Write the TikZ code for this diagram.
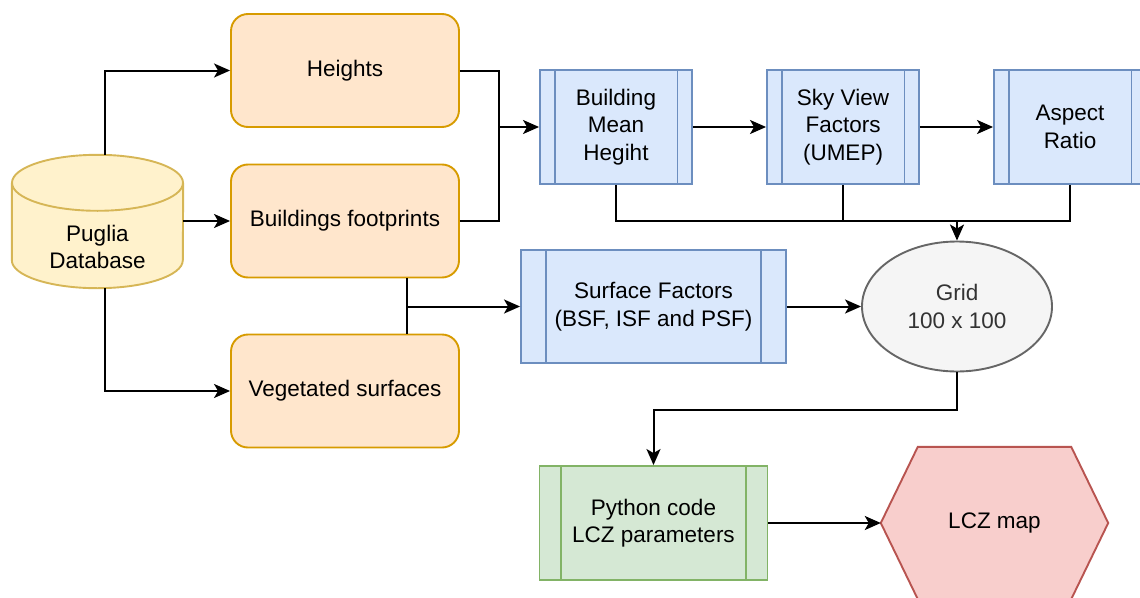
\documentclass[tikz,border=0pt]{standalone}
\usepackage{fontspec}
\setmainfont{Liberation Sans}
\usetikzlibrary{arrows.meta,shapes.geometric,backgrounds}

\definecolor{orangefill}{HTML}{FFE6CC}
\definecolor{orangeline}{HTML}{D79B00}
\definecolor{yellowfill}{HTML}{FFF2CC}
\definecolor{yellowline}{HTML}{D6B656}
\definecolor{bluefill}{HTML}{DAE8FC}
\definecolor{blueline}{HTML}{6C8EBF}
\definecolor{greyfill}{HTML}{F5F5F5}
\definecolor{greyline}{HTML}{666666}
\definecolor{greytext}{HTML}{333333}
\definecolor{greenfill}{HTML}{D5E8D4}
\definecolor{greenline}{HTML}{82B366}
\definecolor{redfill}{HTML}{F8CECC}
\definecolor{redline}{HTML}{B85450}

\tikzset{
  lbl/.style={font=\fontsize{22.5}{27.5}\selectfont, align=center, text=black, inner sep=0pt},
  source/.style={lbl, draw=orangeline, fill=orangefill, line width=1.9pt,
    rounded corners=17pt, minimum width=228pt, minimum height=113pt},
  procbox/.style={lbl, draw=blueline, fill=bluefill, line width=1.9pt,
    minimum width=152pt, minimum height=114pt},
  wire/.style={line width=2pt, draw=black},
  arr/.style={wire, -{Stealth[length=16pt, width=14pt, inset=4pt]}},
}

\begin{document}
\begin{tikzpicture}[x=1pt, y=-1pt]
\useasboundingbox (0,0) rectangle (1140,597);
\clip (0,0) rectangle (1140,597);

% data sources
\node[minimum width=171pt, minimum height=133pt, inner sep=0pt] (db) at (97.5,221.5) {};
\node[lbl] (dblabel) at (97.5,247) {Puglia\\Database};
\node[source] (heights) at (345,70.5) {Heights};
\node[source] (bf) at (345,221) {Buildings footprints};
\node[source] (veg) at (345,391) {Vegetated surfaces};

% processing steps
\node[procbox] (bmh) at (616,127) {Building\\Mean\\Hegiht};
\node[procbox] (svf) at (843,127) {Sky View\\Factors\\(UMEP)};
\node[procbox] (ar) at (1070,127) {Aspect\\Ratio};
\node[procbox, minimum width=265pt, minimum height=113pt] (sf) at (653.5,306.5)
  {Surface Factors\\(BSF, ISF and PSF)};
\node[lbl, ellipse, draw=greyline, fill=greyfill, text=greytext, line width=1.9pt,
  minimum width=190pt, minimum height=130pt] (grid) at (957,306.5) {Grid\\100 x 100};
\node[procbox, draw=greenline, fill=greenfill, minimum width=228pt] (py) at (653.5,523)
  {Python code\\LCZ parameters};
\node[lbl, minimum width=227pt, minimum height=152pt] (lcz) at (994.5,523) {LCZ map};

% inner bars of the process boxes
\foreach \n/\d/\c in {bmh/15.5/blueline, svf/15.5/blueline, ar/15.5/blueline,
                      sf/26/blueline, py/22.5/greenline} {
  \draw[\c, line width=1.9pt] ([xshift=\d pt]\n.north west) -- ([xshift=\d pt]\n.south west);
  \draw[\c, line width=1.9pt] ([xshift=-\d pt]\n.north east) -- ([xshift=-\d pt]\n.south east);
}

% database cylinder and map hexagon
\begin{pgfonlayer}{background}
  \draw[draw=yellowline, fill=yellowfill, line width=1.9pt]
    (db.north west) ++(0,28) -- ([yshift=28pt]db.south west)
    arc[start angle=180, end angle=360, x radius=85.5pt, y radius=28pt]
    -- ([yshift=-28pt]db.north east);
  \draw[draw=yellowline, fill=yellowfill, line width=1.9pt]
    ([yshift=-28pt]db.north) ellipse[x radius=85.5pt, y radius=28pt];
  \draw[draw=redline, fill=redfill, line width=1.9pt]
    ([xshift=37pt]lcz.north west) -- ([xshift=-37pt]lcz.north east) -- (lcz.east)
    -- ([xshift=-37pt]lcz.south east) -- ([xshift=37pt]lcz.south west) -- (lcz.west) -- cycle;
\end{pgfonlayer}

% junction points
\coordinate (jh) at (499,127);
\coordinate (jf) at (407,306.5);
\coordinate (jm) at (957,221);
\coordinate (jg) at (957,410);

% connectors
\draw[arr] ([xshift=7.5pt]db.north) |- (heights.west);
\draw[arr] (db.east |- bf.west) -- (bf.west);
\draw[arr] ([xshift=7.5pt]db.south) |- (veg.west);

\draw[arr] (heights.east) -| (jh) -- (bmh.west);
\draw[wire] (bf.east) -| (jh);

\draw[wire] (bf.south -| jf) -- (veg.north -| jf);
\draw[arr] (jf) -- (sf.west);

\draw[arr] (bmh.east) -- (svf.west);
\draw[arr] (svf.east) -- (ar.west);

\draw[wire] (bmh.south) |- (jm);
\draw[wire] (svf.south) -- (svf.south |- jm);
\draw[wire] (ar.south) |- (jm);
\draw[arr] (jm) -- (grid.north);

\draw[arr] (sf.east) -- (grid.west);
\draw[arr] (grid.south) -- (jg) -| (py.north);
\draw[arr] (py.east) -- (lcz.west);
\end{tikzpicture}
\end{document}
